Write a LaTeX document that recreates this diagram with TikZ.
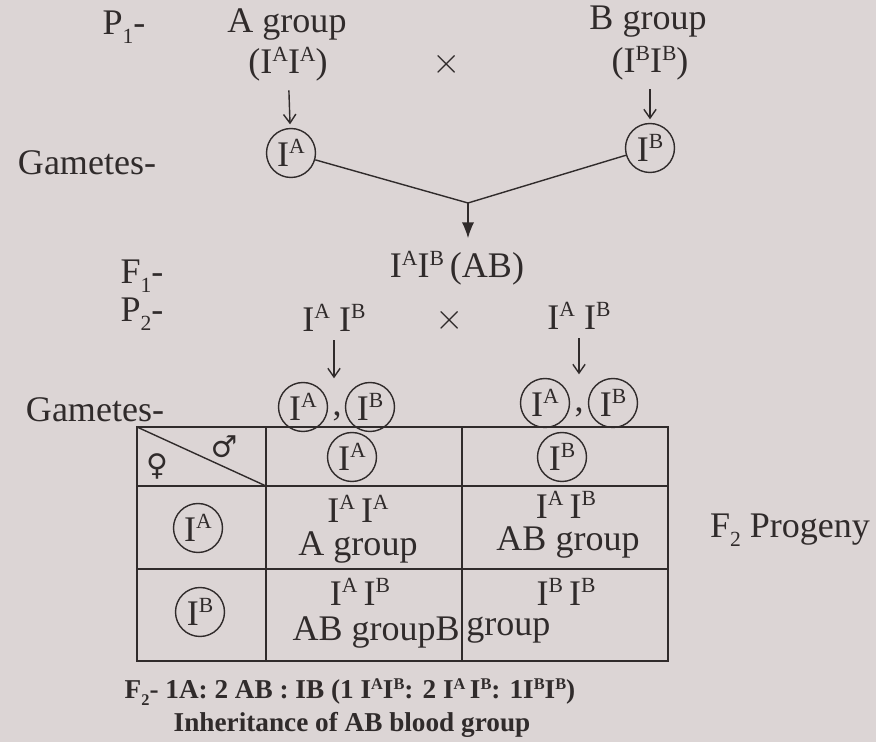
\documentclass[tikz,border=0pt]{standalone}
\usepackage{fontspec}
\usepackage{graphicx}
\setmainfont{Liberation Serif}
\newfontfamily\symfont{DejaVu Serif}
\usetikzlibrary{arrows.meta}

\definecolor{paper}{HTML}{DCD5D5}
\definecolor{ink}{HTML}{302B2B}

\newcommand{\sups}[1]{\raisebox{0.75ex}{\scalebox{0.6}{#1}}}
\newcommand{\subs}[1]{\raisebox{-0.55ex}{\scalebox{0.6}{#1}}}
\newcommand{\gA}{I\sups{A}}
\newcommand{\gB}{I\sups{B}}

\begin{document}
\begin{tikzpicture}[
    x=0.02cm, y=-0.02cm,
    every node/.style={font=\fontsize{20.5}{24}\selectfont, text=ink, inner sep=1pt},
    gamete/.style={draw=ink, circle, thick, inner sep=0.5pt, minimum size=0.98cm},
    genarrow/.style={draw=ink, thick, -{Straight Barb[length=5pt,width=7pt]},
                     shorten <=4pt, shorten >=2pt},
    result/.style={font=\fontsize{15.5}{18}\selectfont\bfseries}
  ]
  % Background
  \fill[paper] (0,0) rectangle (876,742);

  % P1 cross
  \node (p1) at (124,27) {P\subs{1}-};
  \node (agrp) at (287,25) {A group};
  \node (agen) at (288,64) {(\gA\gA)};
  \node (cross1) at (447,64) {$\times$};
  \node (bgrp) at (648,22) {B group};
  \node (bgen) at (650,63) {(\gB\gB)};

  % Gametes of P1
  \node (gam1) at (87,163) {Gametes-};
  \node[gamete] (ga1) at (291,153) {\gA};
  \node[gamete] (gb1) at (650,148) {\gB};
  \draw[genarrow] (agen) -- (ga1);
  \draw[genarrow] (bgen) -- (gb1);
  \coordinate (join) at (468,203);
  \draw[ink, thick] (ga1) -- (join) -- (gb1);

  % F1 and P2
  \node (f1) at (142,276) {F\subs{1}-};
  \node (f1gen) at (457,268) {\gA\gB\,(AB)};
  \draw[ink, thick, -{Latex[length=9pt,width=7pt]}, shorten >=6pt]
    (join) -- (join |- f1gen.north);
  \node (p2) at (142,314) {P\subs{2}-};
  \node (p2a) at (334,318) {\gA\ \gB};
  \node (cross2) at (450,320) {$\times$};
  \node (p2b) at (579,316) {\gA\ \gB};

  % Gametes of P2
  \node (gam2) at (95,410) {Gametes-};
  \node[gamete] (ga2) at (303,407) {\gA};
  \node at (337,416) {,};
  \node[gamete] (gb2) at (370,407) {\gB};
  \node[gamete] (ga3) at (545,403) {\gA};
  \node at (579,412) {,};
  \node[gamete] (gb3) at (613,403) {\gB};
  \draw[genarrow] (p2a) -- (p2a |- ga2.north);
  \draw[genarrow] (p2b) -- (p2b |- ga3.north);

  % Checker board
  \draw[ink, very thick] (137,427) rectangle (668,661);
  \draw[ink, very thick] (266,427) -- (266,661);
  \draw[ink, very thick] (462,427) -- (462,661);
  \draw[ink, very thick] (137,486) -- (668,486);
  \draw[ink, very thick] (137,569) -- (668,569);
  \draw[ink, thick] (137,427) -- (266,486);
  \node (fem) at (157,466) {\symfont\fontsize{17}{20}\selectfont ♀};
  \node (male) at (224,447) {\symfont\fontsize{17}{20}\selectfont ♂};
  \node[gamete] (hA) at (352,457) {\gA};
  \node[gamete] (hB) at (562,457) {\gB};
  \node[gamete] (rA) at (198,528) {\gA};
  \node[gamete] (rB) at (200,612) {\gB};

  \node (c11) at (358,509) {\gA\,\gA};
  \node (c11t) at (358,548) {A group};
  \node (c12) at (566,505) {\gA\,\gB};
  \node (c12t) at (568,543) {AB group};
  \node[inner sep=0pt] (c21) at (360,592) {\gA\,\gB};
  \node[anchor=east, inner sep=0pt] (c21t) at (460,633) {AB groupB};
  \node (c22) at (566,592) {\gB\,\gB};
  \node[anchor=west, inner sep=0pt] (c22t) at (466,630) {group};

  \node (f2) at (790,530) {F\subs{2} Progeny};

  % Ratio and caption
  \node[result] (ratio) at (350,692)
    {F\subs{2}- 1A: 2 AB : IB (1 \gA\gB : 2 \gA\,\gB : 1\gB\gB)};
  \node[result] (title) at (352,725) {Inheritance of AB blood group};
\end{tikzpicture}
\end{document}
